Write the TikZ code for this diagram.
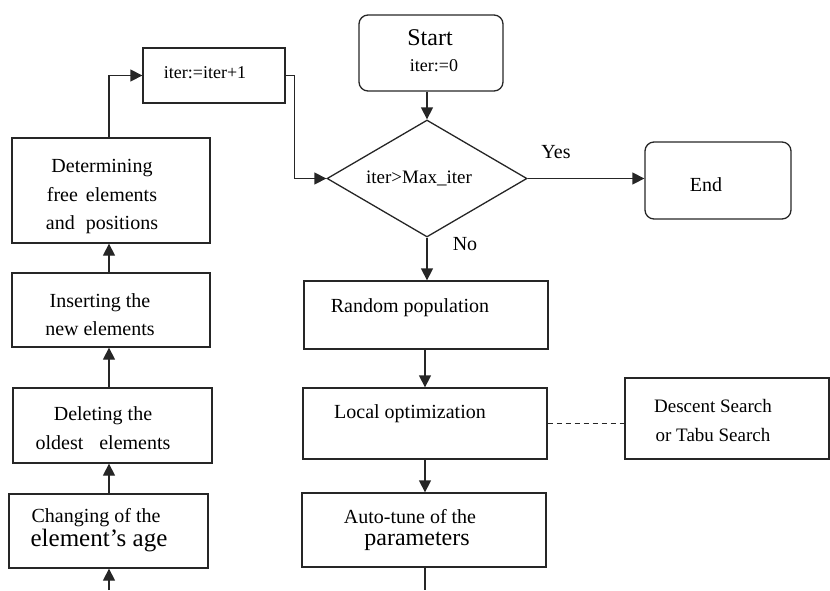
\documentclass[tikz,border=0pt]{standalone}
\usepackage{fontspec}
\setmainfont{Liberation Serif}
\usetikzlibrary{arrows.meta,shapes.geometric}
\begin{document}
\begin{tikzpicture}[x=1pt,y=-1pt,
  line width=1.3pt, draw=black!85,
  boxnode/.style={draw, rectangle, inner sep=0pt},
  roundbox/.style={draw, rectangle, rounded corners=9pt, inner sep=0pt},
  txt/.style={inner sep=0pt, align=center, font=\fontsize{20}{28.5}\selectfont},
  smalltxt/.style={inner sep=0pt, align=center, font=\fontsize{18}{22}\selectfont},
  arr/.style={-{Triangle[length=12pt,width=12pt]}},
]
\useasboundingbox (0,0) rectangle (830,590);

% boxes
\node[boxnode, minimum width=142pt, minimum height=55pt] (iterb) at (214,75.5) {};
\node[boxnode, minimum width=198pt, minimum height=105pt] (det) at (111,190.5) {};
\node[boxnode, minimum width=198pt, minimum height=74pt] (ins) at (111,310) {};
\node[boxnode, minimum width=199pt, minimum height=75pt] (del) at (112.5,425.5) {};
\node[boxnode, minimum width=199pt, minimum height=74pt] (chg) at (108.5,531) {};
\node[roundbox, minimum width=144pt, minimum height=76pt] (start) at (431,53) {};
\node[draw, diamond, inner sep=0pt, minimum width=200pt, minimum height=117pt] (dia) at (427,178.5) {};
\node[roundbox, minimum width=146pt, minimum height=77pt] (end) at (718,180.5) {};
\node[boxnode, minimum width=244pt, minimum height=68pt] (rand) at (426,315) {};
\node[boxnode, minimum width=244pt, minimum height=71pt] (local) at (425,423.5) {};
\node[boxnode, minimum width=204pt, minimum height=81pt] (desc) at (727,418.5) {};
\node[boxnode, minimum width=244pt, minimum height=74pt] (auto) at (424,530) {};

% texts
\node[smalltxt] (titer) at (205,73) {iter:=iter+1};
\node[txt] (tdet) at (102,197) {Determining\\free\hspace{3pt} elements\\and\hspace{6pt} positions};
\node[txt, font=\fontsize{20}{28}\selectfont] (tins) at (100,315) {Inserting the\\new elements};
\node[txt, font=\fontsize{20}{29}\selectfont] (tdel) at (103,428.5) {Deleting the\\oldest\hspace{11pt} elements};
\node[txt] (tchg1) at (96,518) {Changing of the};
\node[txt, font=\fontsize{25}{30}\selectfont] (tchg2) at (99,541) {element's age};
\node[txt, font=\fontsize{24}{28}\selectfont] (tstart1) at (430,38) {Start};
\node[smalltxt] (tstart2) at (434,66) {iter:=0};
\node[txt, font=\fontsize{19}{22}\selectfont] (tdia) at (419,178) {iter>Max\_iter};
\node[txt] (tend) at (706,185) {End};
\node[txt] (tyes) at (556,152) {Yes};
\node[txt] (tno) at (465,244) {No};
\node[txt] (trand) at (410,308) {Random population};
\node[txt] (tlocal) at (410,414) {Local optimization};
\node[txt, font=\fontsize{19}{29}\selectfont] (tdesc) at (713,420.5) {Descent Search\\or Tabu Search};
\node[txt] (tauto1) at (410,517) {Auto-tune of the};
\node[txt, font=\fontsize{24}{28}\selectfont] (tauto2) at (417,541) {parameters};

% free ends
\coordinate (botL) at (109,590);
\coordinate (botR) at (425,590);

% connectors
\draw[arr] (dia.north |- start.south) -- (dia.north);
\draw[arr] (dia.east) -- (dia.east -| end.west);
\draw[arr] (dia.south) -- (dia.south |- rand.north);
\draw[arr] (botR |- rand.south) -- (botR |- local.north);
\draw[arr] (botR |- local.south) -- (botR |- auto.north);
\draw (botR |- auto.south) -- (botR);
\draw[dash pattern=on 5pt off 4pt] (local.east) -- (local.east -| desc.west);
\draw[arr] (botL) -- (botL |- chg.south);
\draw[arr] (botL |- chg.north) -- (botL |- del.south);
\draw[arr] (botL |- del.north) -- (botL |- ins.south);
\draw[arr] (botL |- ins.north) -- (botL |- det.south);
\draw[arr] (botL |- det.north) |- (iterb.west);
\draw[arr] (iterb.east) -- ++(9,0) |- (dia.west);
\end{tikzpicture}
\end{document}
